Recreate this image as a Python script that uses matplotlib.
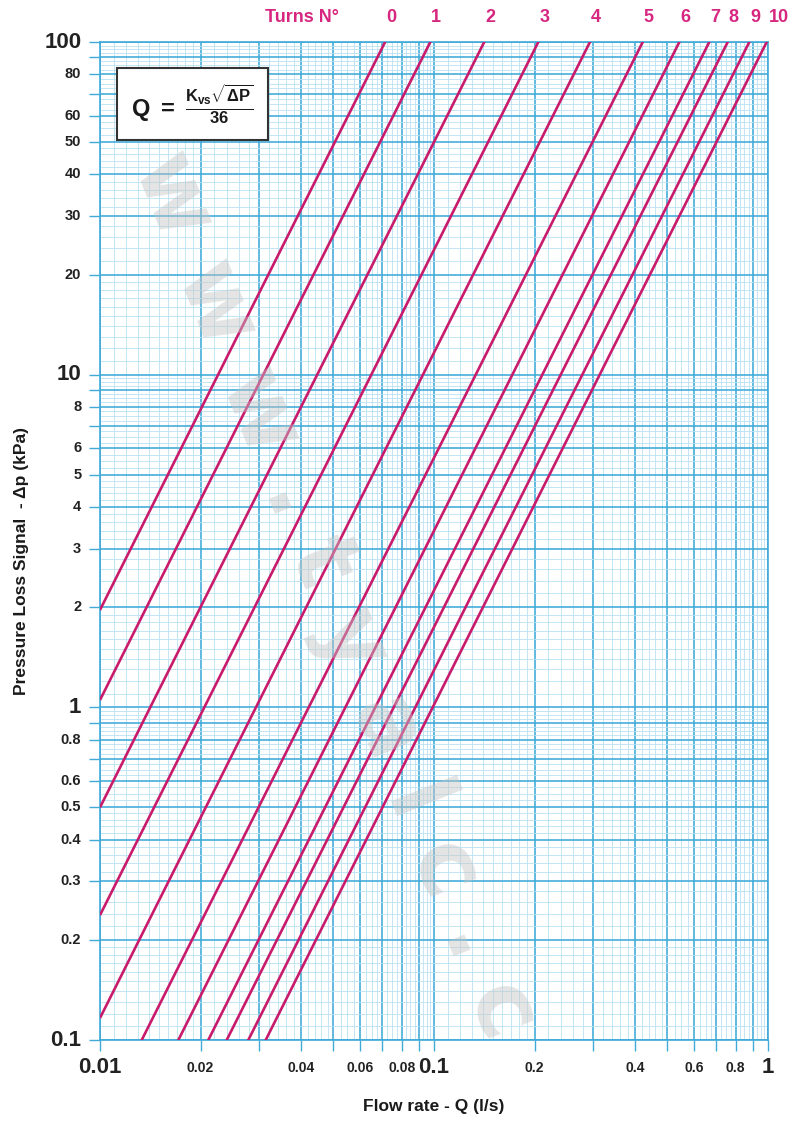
import numpy as np
import matplotlib
matplotlib.use('Agg')
import matplotlib.pyplot as plt
from matplotlib.ticker import FixedLocator, NullFormatter

# valve setting (turns) and the Kvs
turns = [0, 1, 2, 3, 4, 5, 6, 7, 8, 9, 10]
kvs = [0.257, 0.351, 0.509, 0.739, 1.055, 1.518, 1.954, 2.402, 2.727, 3.165, 3.568]

x_labels = ['0.01', '0.02', '0.04', '0.06', '0.08', '0.1', '0.2', '0.4', '0.6', '0.8', '1']
x_label_vals = [0.01, 0.02, 0.04, 0.06, 0.08, 0.1, 0.2, 0.4, 0.6, 0.8, 1]
y_labels = ['0.1', '0.2', '0.3', '0.4', '0.5', '0.6', '0.8', '1', '2', '3', '4', '5', '6', '8',
            '10', '20', '30', '40', '50', '60', '80', '100']
y_label_vals = [0.1, 0.2, 0.3, 0.4, 0.5, 0.6, 0.8, 1, 2, 3, 4, 5, 6, 8,
                10, 20, 30, 40, 50, 60, 80, 100]
decades = ['0.01', '0.1', '1', '10', '100']

LINE = '#c81b6c'
LABEL = '#d6267f'
MAJ = '#3fa9d8'
MIN = '#b9e2f3'

plt.rcParams['font.family'] = ['Liberation Sans', 'DejaVu Sans']
plt.rcParams['mathtext.fontset'] = 'custom'
plt.rcParams['mathtext.rm'] = 'Liberation Sans:bold'
plt.rcParams['mathtext.it'] = 'Liberation Sans:bold'
plt.rcParams['mathtext.bf'] = 'Liberation Sans:bold'


def log_grid(lo_exp, hi_exp):
    major, minor = [], []
    for e in range(lo_exp, hi_exp):
        b = 10.0 ** e
        major += [m * b for m in range(1, 10)]
        minor += [v * b for v in np.arange(1.1, 2.0, 0.1)]
        minor += [v * b for v in np.arange(2.2, 5.0, 0.2)]
        minor += [v * b for v in np.arange(5.25, 10.0, 0.25)]
    major.append(10.0 ** hi_exp)
    return major, minor


fig = plt.figure(figsize=(7.97, 11.22), dpi=100)
ax = fig.add_axes([100 / 797, 1 - 1040 / 1122, 668 / 797, 998 / 1122])
ax.set_xscale('log')
ax.set_yscale('log')
ax.set_xlim(0.01, 1)
ax.set_ylim(0.1, 100)

xmaj, xmin = log_grid(-2, 0)
ymaj, ymin = log_grid(-1, 2)
ax.xaxis.set_major_locator(FixedLocator(xmaj))
ax.xaxis.set_minor_locator(FixedLocator(xmin))
ax.yaxis.set_major_locator(FixedLocator(ymaj))
ax.yaxis.set_minor_locator(FixedLocator(ymin))
for a in (ax.xaxis, ax.yaxis):
    a.set_major_formatter(NullFormatter())
    a.set_minor_formatter(NullFormatter())
ax.grid(which='minor', color=MIN, lw=0.6, zorder=0)
ax.grid(which='major', color=MAJ, lw=1.15, zorder=1)
ax.tick_params(which='major', length=8, color=MAJ, width=1)
ax.tick_params(which='minor', length=0)
for s in ax.spines.values():
    s.set_color(MAJ)
    s.set_linewidth(1.2)

# tick labels drawn as text so decades can be larger
xt = ax.get_xaxis_transform()
for v, t in zip(x_label_vals, x_labels):
    big = t in decades
    ax.text(v, -0.028, t, transform=xt, ha='center', va='center',
            fontsize=16 if big else 10, fontweight='bold', color='#222222')
yt = ax.get_yaxis_transform()
for v, t in zip(y_label_vals, y_labels):
    big = t in decades
    ax.text(-0.028, v, t, transform=yt, ha='right', va='center',
            fontsize=16 if big else 10.5, fontweight='bold', color='#222222')

# one line per valve setting:  dp = (36 Q / Kvs)^2
q = np.logspace(-2, 0, 400)
for k in kvs:
    ax.plot(q, (36 * q / k) ** 2, color=LINE, lw=1.9, zorder=3, solid_capstyle='butt')

# turn numbers where each line leaves the top edge
for n, k in zip(turns, kvs):
    q_top = k * np.sqrt(100) / 36
    last = n == turns[-1]
    ax.annotate(str(n), xy=(q_top, 1), xycoords=xt, xytext=(2 if last else 6, 24),
                textcoords='offset pixels', ha='left' if last else 'center', va='center',
                fontsize=13, fontweight='bold', color=LABEL, annotation_clip=False)
fig.text(302 / 797, 1 - 18 / 1122, 'Turns N°', ha='center', va='center',
         fontsize=13, fontweight='bold', color=LABEL)

ax.text(0.138, 0.938, r'$Q\ =\ \frac{K_{vs}\sqrt{\Delta P}}{36}$', transform=ax.transAxes,
        ha='center', va='center', fontsize=17, color='#1a1a1a', zorder=5,
        bbox=dict(boxstyle='square,pad=0.6', fc='white', ec='#333333', lw=1.5))

fig.text(22 / 797, 0.5, 'Pressure Loss Signal  - Δp (kPa)', rotation=90,
         ha='center', va='center', fontsize=12.5, fontweight='bold', color='#1a1a1a')
fig.text(434 / 797, 1 - 1106 / 1122, 'Flow rate - Q (l/s)', ha='center', va='center',
         fontsize=12.5, fontweight='bold', color='#1a1a1a', zorder=6)

# faint watermark
fig.text(335 / 797, 1 - 595 / 1122, 'w w w . t y a l c . c', rotation=-68,
         ha='center', va='center', fontsize=66, fontweight='bold', color='#c4c4c4',
         alpha=0.45, family='DejaVu Sans', zorder=4)

fig.savefig('out.png', dpi=100)
